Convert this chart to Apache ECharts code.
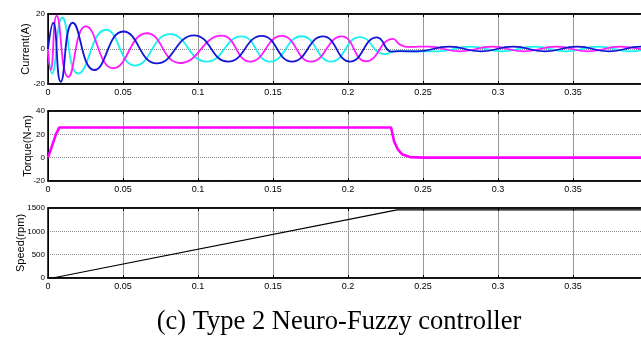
<!DOCTYPE html>
<html>
<head>
<meta charset="utf-8">
<script src="https://cdn.jsdelivr.net/npm/echarts@6/dist/echarts.min.js"></script>
<style>
    html, body { margin: 0; padding: 0; background: #fff; }
    #chart { width: 641px; height: 345px; }
</style>
</head>
<body>
<div id="chart"></div>
<script>
// x ticks (time, s)
var xTicks = [0, 0.05, 0.1, 0.15, 0.2, 0.25, 0.3, 0.35, 0.4]

// stator currents, read at peaks / troughs  [t, A]
var currentBlue = [
    [0, 0], [0.0035, 15], [0.0085, -18.7], [0.0165, 15], [0.0309, -12], [0.0502, 10],
    [0.0725, -8.2], [0.0973, 7.8], [0.12, -7.2], [0.1425, 7.5], [0.1627, -7.2],
    [0.1833, 7.2], [0.2013, -7.2], [0.2193, 6.6], [0.2293, -1.5], [0.2347, -1.2],
    [0.246, -1.4], [0.2673, 1.4], [0.2887, -1.4], [0.31, 1.4], [0.3313, -1.4],
    [0.3527, 1.4], [0.374, -1.4], [0.3953, 1.4], [0.4, 1.2]
]
var currentMagenta = [
    [0, 0], [0.0018, -12], [0.0058, 19], [0.0135, -16], [0.0253, 13], [0.0435, -11],
    [0.0658, 9], [0.088, -8], [0.1158, 7.6], [0.1347, -7.2], [0.1558, 7.5],
    [0.1753, -7.2], [0.1958, 7.2], [0.212, -7], [0.23, 5.8], [0.2347, 2.5],
    [0.2413, 1.2], [0.2533, 1.4], [0.2747, -1.4], [0.296, 1.4], [0.3173, -1.4],
    [0.3387, 1.4], [0.36, -1.4], [0.3813, 1.4], [0.4, -1.2]
]
var currentCyan = [
    [0, 0], [0.0027, -14], [0.0095, 18], [0.0202, -14], [0.0387, 11], [0.058, -9.5],
    [0.0813, 8.5], [0.1058, -7.2], [0.1291, 7.2], [0.148, -7.2], [0.1691, 7.3],
    [0.1887, -7.2], [0.208, 6.8], [0.2247, -3], [0.2313, -1.2], [0.26, -1.4],
    [0.2813, 1.4], [0.3027, -1.4], [0.324, 1.4], [0.3453, -1.4], [0.3667, 1.4],
    [0.388, -1.4], [0.4, 0.2]
]

// electromagnetic torque [t, N-m]
var torque = [
    [0, 0], [0.0013, 0], [0.0053, 20], [0.0075, 25.8], [0.2287, 25.8], [0.2307, 14],
    [0.2333, 7], [0.236, 3], [0.2413, 0.5], [0.25, 0], [0.4, 0]
]

// rotor speed [t, rpm]
var speed = [
    [0, 0], [0.003, 0], [0.2327, 1458], [0.4, 1458]
]

var yCurrent = [-20, 20, 20]
var yTorque = [-20, 40, 20]
var ySpeed = [0, 1500, 500]

var caption = '(c) Type 2 Neuro-Fuzzy controller'

var chart = echarts.init(document.getElementById('chart'))

var panels = [
    { top: 14, name: 'Current(A)', y: yCurrent, gap: 17 },
    { top: 111, name: 'Torque(N-m)', y: yTorque, gap: 15 },
    { top: 208, name: 'Speed(rpm)', y: ySpeed, gap: 22 }
]

var grids = [], xAxes = [], yAxes = []
panels.forEach(function (p, i) {
    grids.push({
        left: 48, right: -7, top: p.top, height: 70,
        outerBoundsMode: 'none', containLabel: false,
        show: true, borderColor: '#000', borderWidth: 1.5, backgroundColor: '#fff'
    })
    // bottom axis with labels
    xAxes.push({
        type: 'value', gridIndex: i, min: xTicks[0], max: xTicks[xTicks.length - 1],
        interval: 0.05, position: 'bottom',
        axisLine: { show: true, onZero: false, lineStyle: { color: '#000', width: 1.5 } },
        axisTick: { show: true, inside: true, length: 3, lineStyle: { color: '#000' } },
        axisLabel: { color: '#000', fontSize: 9, fontFamily: 'Liberation Sans', margin: 4 },
        splitLine: { show: true, lineStyle: { color: '#9a9a9a', width: 1 } }
    })
    // top axis, ticks only (matlab box)
    xAxes.push({
        type: 'value', gridIndex: i, min: xTicks[0], max: xTicks[xTicks.length - 1],
        interval: 0.05, position: 'top',
        axisLine: { show: true, onZero: false, lineStyle: { color: '#000', width: 1.5 } },
        axisTick: { show: true, inside: true, length: 3, lineStyle: { color: '#000' } },
        axisLabel: { show: false },
        splitLine: { show: false }
    })
    yAxes.push({
        type: 'value', gridIndex: i, min: p.y[0], max: p.y[1], interval: p.y[2],
        name: p.name, nameLocation: 'middle', nameGap: p.gap, nameRotate: 90,
        nameMoveOverlap: false,
        nameTextStyle: { color: '#000', fontSize: 11, fontFamily: 'Liberation Sans' },
        axisLine: { show: true, onZero: false, lineStyle: { color: '#000', width: 1 } },
        axisTick: { show: false },
        axisLabel: {
            color: '#000', fontSize: 8, fontFamily: 'Liberation Sans', margin: 3,
            formatter: function (v) { return String(v) }
        },
        splitLine: { show: true, lineStyle: { color: '#8a8a8a', type: 'dotted', width: 1 } }
    })
})

function line(data, color, width, gi, smooth) {
    return {
        type: 'line', data: data, xAxisIndex: gi * 2, yAxisIndex: gi,
        showSymbol: false, smooth: smooth, silent: true,
        lineStyle: { color: color, width: width }
    }
}

chart.setOption({
    animation: false,
    title: {
        text: caption, left: 334, top: 304, textAlign: 'center',
        textStyle: { fontFamily: 'Liberation Serif', fontWeight: 'normal', fontSize: 26.5, color: '#000' }
    },
    grid: grids,
    xAxis: xAxes,
    yAxis: yAxes,
    series: [
        line(currentCyan, '#19f0f0', 1.8, 0, 0.5),
        line(currentMagenta, '#ff1aff', 1.8, 0, 0.5),
        line(currentBlue, '#1414d8', 1.8, 0, 0.5),
        line(torque, '#ff00ff', 2.6, 1, false),
        line(speed, '#000', 1.2, 2, false)
    ]
})
</script>
</body>
</html>
